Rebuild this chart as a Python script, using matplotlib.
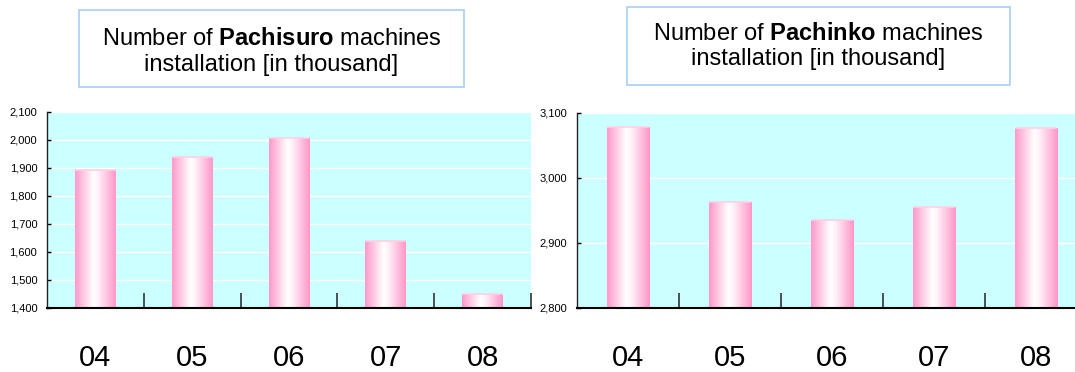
import matplotlib
matplotlib.use("Agg")
import matplotlib.pyplot as plt
import numpy as np
from matplotlib.colors import LinearSegmentedColormap
from matplotlib.patches import Rectangle
from matplotlib import font_manager

# ---- data ----
years = ["04", "05", "06", "07", "08"]
pachisuro = [1890, 1938, 2005, 1638, 1450]
pachinko = [3078, 2962, 2934, 2955, 3077]
pachisuro_ticks = [1400, 1500, 1600, 1700, 1800, 1900, 2000, 2100]
pachinko_ticks = [2800, 2900, 3000, 3100]
title_left = ("Number of ", "Pachisuro", " machines", "installation [in thousand]")
title_right = ("Number of ", "Pachinko", " machines", "installation [in thousand]")

W, H = 1075, 372
fig = plt.figure(figsize=(W / 100, H / 100), dpi=100)
fig.patch.set_facecolor("white")

names = {f.name for f in font_manager.fontManager.ttflist}
narrow = "Liberation Sans Narrow" if "Liberation Sans Narrow" in names else "Liberation Sans"
plt.rcParams["font.family"] = ["Liberation Sans", "DejaVu Sans"]
plt.rcParams["mathtext.fontset"] = "custom"
plt.rcParams["mathtext.bf"] = "Liberation Sans:bold"
plt.rcParams["mathtext.rm"] = "Liberation Sans"

cmap = LinearSegmentedColormap.from_list(
    "pinkbar", [(0.0, "#ff98ca"), (0.45, "#ffffff"), (0.55, "#fff4fa"), (1.0, "#ff96c8")])
grad = np.linspace(0, 1, 256).reshape(1, -1)


def px_axes(x0, y_top, x1, y_bot):
    return [x0 / W, 1 - y_bot / H, (x1 - x0) / W, (y_bot - y_top) / H]


def draw(ax, values, ticks, tickfont):
    n = len(values)
    x = np.arange(n)
    ax.set_facecolor("#ccffff")
    bars = ax.bar(x, [v - ticks[0] for v in values], bottom=ticks[0], width=0.42,
                  color="none", edgecolor="none", zorder=2)
    for b in bars:
        x0, y0 = b.get_x(), b.get_y()
        im = ax.imshow(grad, cmap=cmap, aspect="auto", zorder=2,
                       extent=[x0, x0 + b.get_width(), y0, y0 + b.get_height()])
        im.set_clip_path(b)
        ax.plot([x0, x0 + b.get_width()], [y0 + b.get_height()] * 2,
                color="#ffd0e4", lw=1.2, zorder=3, solid_capstyle="butt")
    ax.set_xlim(-0.5, n - 0.5)
    ax.set_ylim(ticks[0], ticks[-1])
    ax.set_yticks(ticks)
    ax.set_yticklabels([f"{t:,}" for t in ticks], fontsize=8, family=tickfont)
    ax.yaxis.grid(True, color="white", lw=1)
    ax.set_axisbelow(True)
    ax.set_xticks(x)
    ax.set_xticklabels(years, fontsize=21)
    ax.set_xticks(np.arange(0.5, n, 1.0), minor=True)
    ax.tick_params(axis="x", which="major", length=0, pad=26)
    ax.tick_params(axis="x", which="minor", direction="in", length=11, width=1.2, color="#333333")
    ax.tick_params(axis="y", direction="in", length=3, width=1, pad=7)
    for s in ("top", "right"):
        ax.spines[s].set_visible(False)
    ax.spines["bottom"].set_linewidth(1.5)
    ax.spines["left"].set_linewidth(1.0)
    ax.spines["left"].set_color("#222222")


ax1 = fig.add_axes(px_axes(47, 111.7, 531, 307.5))
draw(ax1, pachisuro, pachisuro_ticks, "Liberation Sans")
ax2 = fig.add_axes(px_axes(577, 112.7, 1087, 307.5))
draw(ax2, pachinko, pachinko_ticks, narrow)


def title_box(x0, y0, x1, y1, t, base1, base2):
    fig.patches.append(Rectangle((x0 / W, 1 - y1 / H), (x1 - x0) / W, (y1 - y0) / H,
                                 transform=fig.transFigure, facecolor="white",
                                 edgecolor="#a9cdf2", lw=1.2))
    cx = (x0 + x1) / 2 / W
    fig.text(cx, 1 - base1 / H, t[0] + r"$\bf{" + t[1] + "}$" + t[2],
             ha="center", va="baseline", fontsize=17)
    fig.text(cx, 1 - base2 / H, t[3], ha="center", va="baseline", fontsize=17)


title_box(79, 10, 464, 87, title_left, 45, 71)
title_box(627, 7, 1010, 85, title_right, 40, 65)

fig.savefig("out.png", dpi=100)
